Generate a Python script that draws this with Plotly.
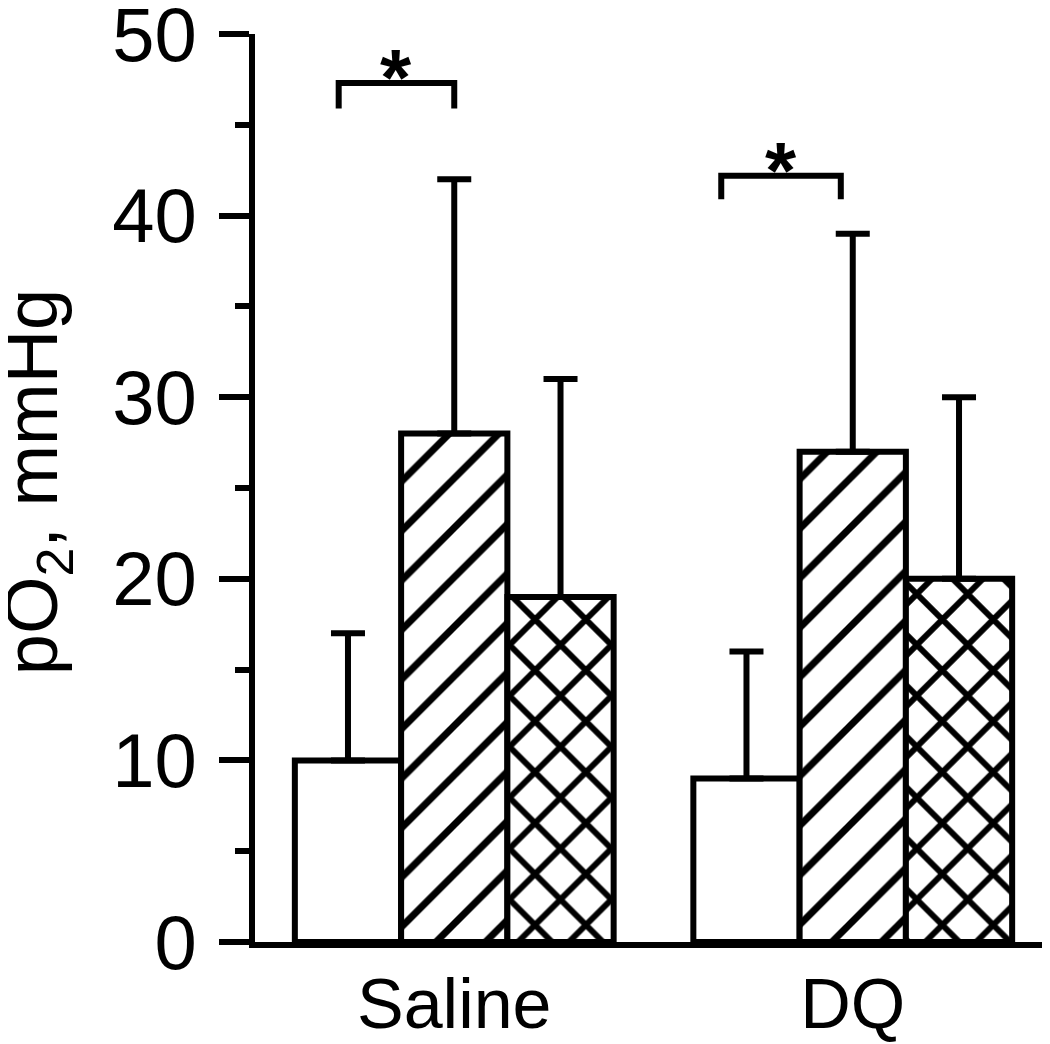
"pO2 bar chart recreation"

import plotly.graph_objects as go

# group positions and labels
group_pos = [0, 1]
group_labels = ["Saline", "DQ"]

# bar means and upper error (SD) per condition
white_vals = [10, 9]
white_err = [7, 7]
hatch_vals = [28, 27]
hatch_err = [14, 12]
cross_vals = [19, 20]
cross_err = [12, 10]

# significance brackets: (x_left, x_right, y_top, y_bottom)
bracket_saline = [-0.29, 0.0, 47.3, 45.9]
bracket_dq = [0.67, 0.97, 42.2, 40.9]

FONT = "Liberation Sans, Arial, sans-serif"
LW = 6


def add_bar(fig, vals, errs, shape, size, solidity):
    """Adds one bar series with upward-only error bars."""
    fig.add_trace(go.Bar(
        x=group_pos, y=vals,
        marker=dict(
            color="white",
            line=dict(color="black", width=LW),
            pattern=dict(shape=shape, size=size, solidity=solidity,
                         fgcolor="black", bgcolor="white", fillmode="replace"),
        ),
        error_y=dict(type="data", symmetric=False, array=errs,
                     arrayminus=[0] * len(errs), color="black",
                     thickness=LW, width=17),
        showlegend=False,
    ))


def add_bracket(fig, br):
    """Adds a significance bracket with asterisk."""
    x0, x1, ytop, ybot = br
    fig.add_trace(go.Scatter(
        x=[x0, x0, x1, x1], y=[ybot, ytop, ytop, ybot], mode="lines",
        line=dict(color="black", width=LW), showlegend=False, hoverinfo="skip",
    ))
    fig.add_annotation(
        x=(x0 + x1) / 2, y=ytop, text="<b>*</b>", showarrow=False,
        yanchor="bottom", yshift=-41, font=dict(size=80, family=FONT, color="black"),
    )


fig = go.Figure()
add_bar(fig, white_vals, white_err, "", 10, 0.1)
add_bar(fig, hatch_vals, hatch_err, "/", 35, 0.2)
add_bar(fig, cross_vals, cross_err, "x", 36, 0.3)
add_bracket(fig, bracket_saline)
add_bracket(fig, bracket_dq)

# y-axis title placed as a rotated annotation so it can sit near the left edge
fig.add_annotation(
    xref="paper", yref="paper", x=-0.274, y=0.507,
    xanchor="center", yanchor="middle", textangle=-90, showarrow=False,
    text="pO<sub>2</sub>, mmHg", font=dict(size=74, family=FONT, color="black"),
)

fig.update_layout(
    width=1050, height=1044,
    margin=dict(l=247, r=6, t=26, b=110),
    paper_bgcolor="white", plot_bgcolor="white",
    barmode="group", bargap=0.2, bargroupgap=0,
    font=dict(family=FONT, color="black"),
)
fig.update_xaxes(
    range=[-0.5, 1.5], tickvals=group_pos, ticktext=group_labels,
    showline=True, linecolor="black", linewidth=LW, ticks="",
    showgrid=False, zeroline=False, tickfont=dict(size=70),
    ticklabelstandoff=-4, automargin=False,
)
fig.update_yaxes(
    range=[0, 50], dtick=10, showline=True, linecolor="black", linewidth=LW,
    ticks="outside", ticklen=30, tickwidth=LW, tickcolor="black",
    minor=dict(dtick=5, ticks="outside", ticklen=14, tickwidth=LW, tickcolor="black"),
    showgrid=False, zeroline=False, tickfont=dict(size=76),
    ticklabelstandoff=7, ticklabeloverflow="allow", automargin=False,
)

fig.write_html("out.html")
